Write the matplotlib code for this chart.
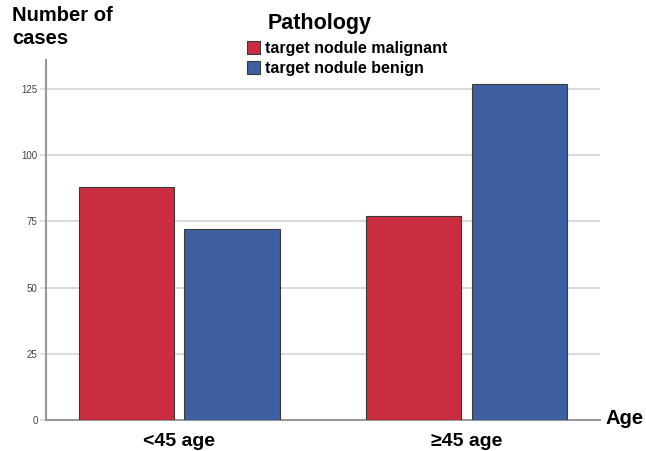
import matplotlib
matplotlib.use("Agg")
import matplotlib.pyplot as plt
import numpy as np

plt.rcParams['font.family'] = ['Liberation Sans', 'DejaVu Sans']

categories = ["<45 age", "\u226545 age"]
malignant = [88, 77]
benign = [72, 127]
series_names = ["target nodule malignant", "target nodule benign"]
yticks = [0, 25, 50, 75, 100, 125]

red = "#C82E3F"
blue = "#3F60A0"
W, H = 646, 451
fig = plt.figure(figsize=(W/100, H/100), dpi=100)
ax = fig.add_axes([46/W, 1-420/H, (600-46)/W, (420-60)/H])

x = np.arange(len(categories))
bw = 0.331
off = 0.183
ax.bar(x - off, malignant, bw, color=red, edgecolor="#3a3a3a", linewidth=0.8, zorder=3)
ax.bar(x + off, benign, bw, color=blue, edgecolor="#3a3a3a", linewidth=0.8, zorder=3)

ax.set_xlim(-0.465, 1.465)
ax.set_ylim(0, 136)
ax.set_yticks(yticks)
ax.set_yticklabels([str(t) for t in yticks], fontsize=7, color="#444444")
ax.yaxis.grid(True, color="#dcdcdc", linewidth=1.5, zorder=0)
ax.tick_params(axis='y', length=4, width=1.2, color="#dcdcdc", pad=2)
ax.set_xticks(x)
ax.set_xticklabels(categories, fontsize=14, fontweight='bold')
ax.tick_params(axis='x', length=0, pad=9)
for s in ['top', 'right']:
    ax.spines[s].set_visible(False)
for s in ['left', 'bottom']:
    ax.spines[s].set_color("#999999")
    ax.spines[s].set_linewidth(1.5)

fig.text(12/W, 1-6/H, "Number of\ncases", fontsize=14.5, fontweight='bold', va='top', ha='left', linespacing=1.3)
fig.text(605/W, 1-419/H, "Age", fontsize=14.5, fontweight='bold', va='center', ha='left')
fig.text(268/W, 1-24/H, "Pathology", fontsize=15.5, fontweight='bold', va='center', ha='left')

from matplotlib.patches import Rectangle
for i, (name, col) in enumerate(zip(series_names, [red, blue])):
    yc = 48 + i*20
    fig.patches.append(Rectangle((247/W, 1-(yc+6)/H), 13/W, 13/H, transform=fig.transFigure,
                                 facecolor=col, edgecolor="#3a3a3a", linewidth=0.8))
    fig.text(265/W, 1-yc/H, name, fontsize=11.5, fontweight='bold', va='center', ha='left')

fig.savefig("out.png", dpi=100)
